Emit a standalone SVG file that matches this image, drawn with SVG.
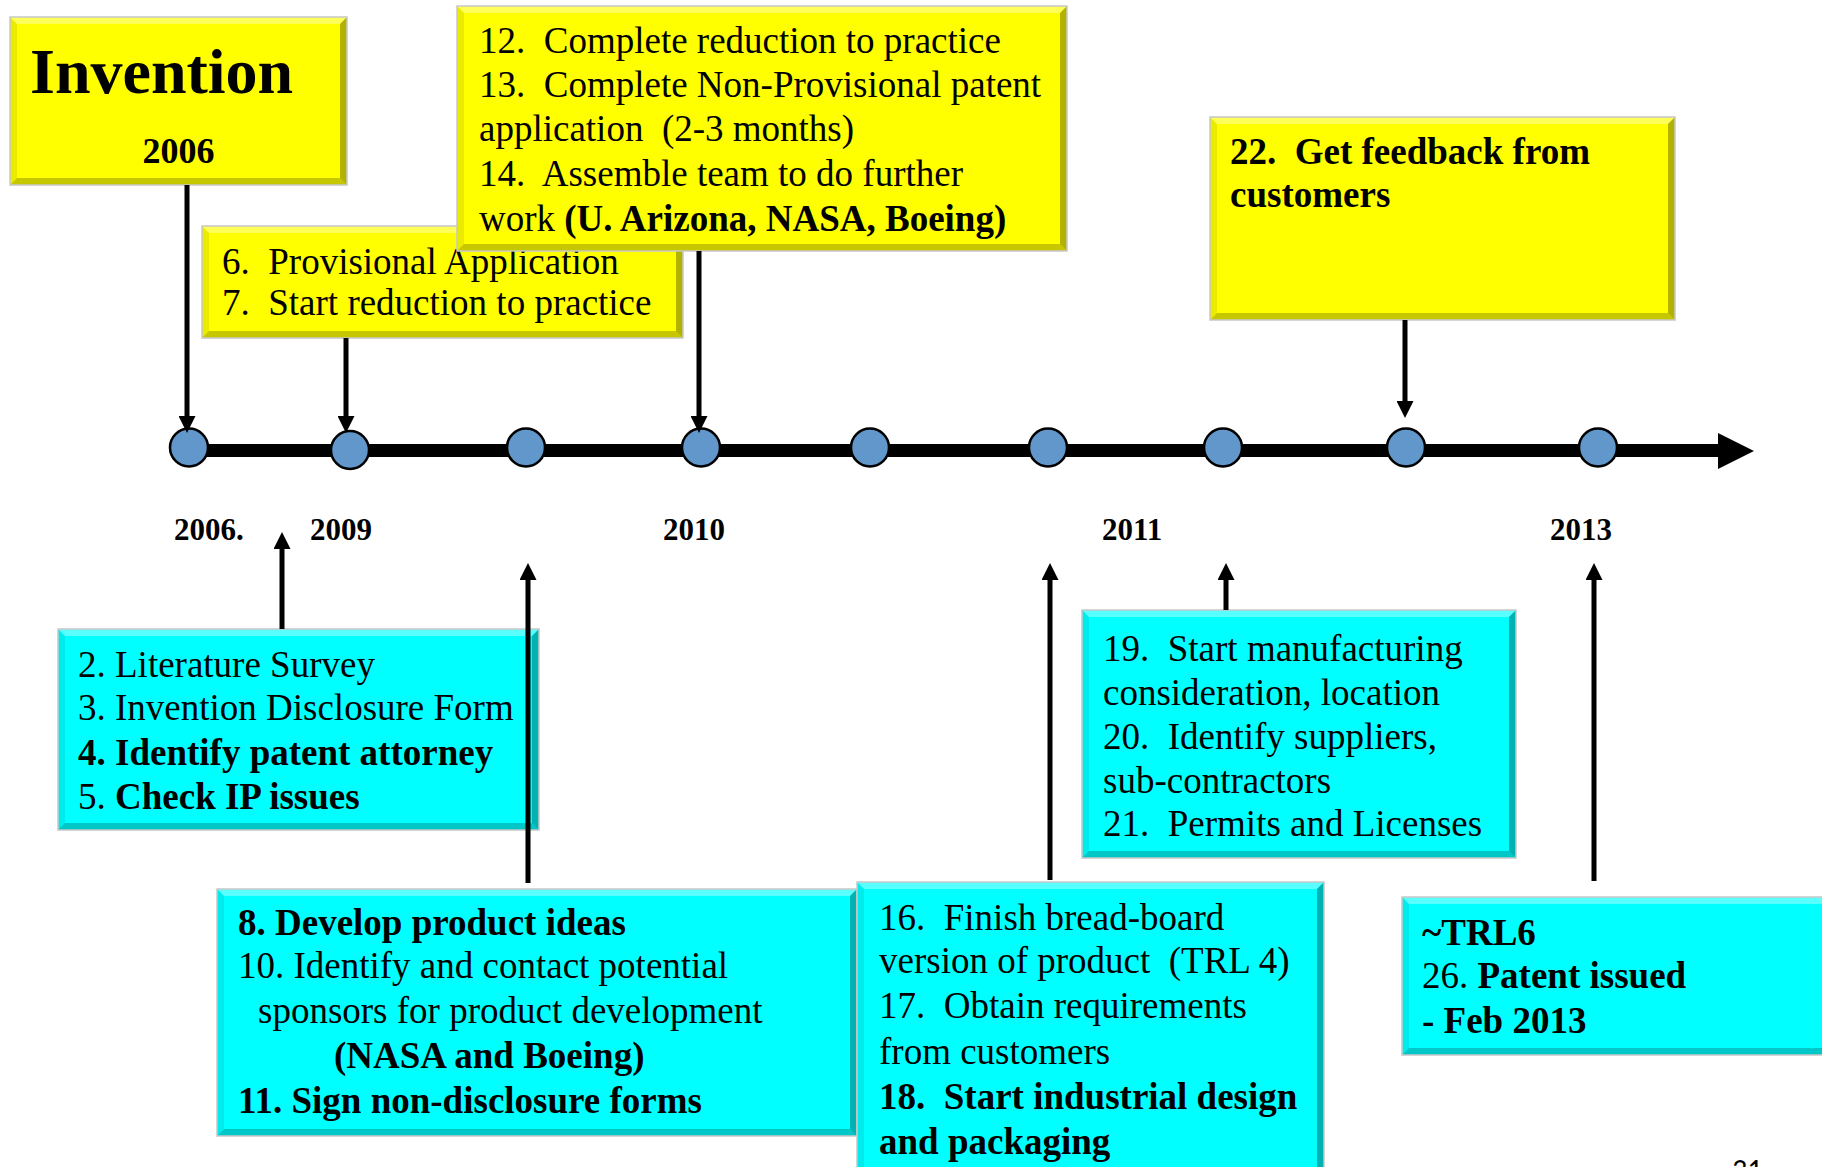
<svg xmlns="http://www.w3.org/2000/svg" width="1822" height="1167" viewBox="0 0 1822 1167">
<defs>
<style>
.bg{fill:#ffffff}
.y{fill:#FFFF00}
.c{fill:#00FFFF}
.edge{fill:none;stroke:#c8c8c8;stroke-width:1.5}
.bt{fill:#ffffff;opacity:0.35}
.bl{fill:#000000;opacity:0.08}
.br{fill:#000000;opacity:0.3}
.bb{fill:#000000;opacity:0.22}
text{font-family:"Liberation Serif","Times New Roman",serif;fill:#000;white-space:pre}
.t{font-size:37px}
.b{font-weight:bold}
.yr{font-size:31px;font-weight:bold}
.conn{stroke:#000;stroke-width:5;fill:none}
.dot{fill:#6197CB;stroke:#000;stroke-width:2.5}
</style>
<marker id="ah" markerUnits="userSpaceOnUse" markerWidth="17" markerHeight="17" viewBox="0 0 17 17" refX="3" refY="8.5" orient="auto">
<path d="M0,0 L17,8.5 L0,17 z" fill="#000"/>
</marker>
</defs>
<rect class="bg" x="0" y="0" width="1822" height="1167"/>

<g id="timeline">
<line x1="189" y1="450.5" x2="1720" y2="450.5" stroke="#000" stroke-width="13"/>
<polygon points="1718,433 1754,451 1718,469" fill="#000"/>
<circle id="t1" class="dot" cx="189" cy="447.5" r="19"/>
<circle id="t2" class="dot" cx="350" cy="450" r="19"/>
<circle id="t3" class="dot" cx="526" cy="447.5" r="19"/>
<circle id="t4" class="dot" cx="701" cy="447.5" r="19"/>
<circle id="t5" class="dot" cx="870" cy="447.5" r="19"/>
<circle id="t6" class="dot" cx="1048" cy="447.5" r="19"/>
<circle id="t7" class="dot" cx="1223" cy="447.5" r="19"/>
<circle id="t8" class="dot" cx="1406" cy="447.5" r="19"/>
<circle id="t9" class="dot" cx="1598" cy="447.5" r="19"/>
</g>

<g id="years">
<text class="yr" x="174" y="540">2006.</text>
<text class="yr" x="310" y="540">2009</text>
<text class="yr" x="663" y="540">2010</text>
<text class="yr" x="1102" y="540">2011</text>
<text class="yr" x="1550" y="540">2013</text>
</g>

<g id="invention">
<rect class="y" x="10" y="17" width="337" height="168"/>
<polygon class="bt" points="10,17 347,17 340,24 17,24"/>
<polygon class="bl" points="10,17 17,24 17,178 10,185"/>
<polygon class="br" points="347,17 347,185 340,178 340,24"/>
<polygon class="bb" points="10,185 17,178 340,178 347,185"/>
<rect class="edge" x="10" y="17" width="337" height="168"/>
<text class="b" x="30" y="93" font-size="64">Invention</text>
<text class="b" x="178.5" y="163" font-size="36" text-anchor="middle">2006</text>
</g>

<g id="box6">
<rect class="y" x="202" y="226" width="481" height="112"/>
<polygon class="bt" points="202,226 683,226 676,233 209,233"/>
<polygon class="bl" points="202,226 209,233 209,331 202,338"/>
<polygon class="br" points="683,226 683,338 676,331 676,233"/>
<polygon class="bb" points="202,338 209,331 676,331 683,338"/>
<rect class="edge" x="202" y="226" width="481" height="112"/>
<text class="t" x="222" y="274">6.  Provisional Application</text>
<text class="t" x="222" y="315">7.  Start reduction to practice</text>
</g>

<g id="box12">
<rect class="y" x="457" y="6" width="610" height="245"/>
<polygon class="bt" points="457,6 1067,6 1060,13 464,13"/>
<polygon class="bl" points="457,6 464,13 464,244 457,251"/>
<polygon class="br" points="1067,6 1067,251 1060,244 1060,13"/>
<polygon class="bb" points="457,251 464,244 1060,244 1067,251"/>
<rect class="edge" x="457" y="6" width="610" height="245"/>
<text class="t" x="479" y="53">12.  Complete reduction to practice</text>
<text class="t" x="479" y="97">13.  Complete Non-Provisional patent</text>
<text class="t" x="479" y="141">application  (2-3 months)</text>
<text class="t" x="479" y="186">14.  Assemble team to do further</text>
<text class="t" x="479" y="231">work <tspan class="b">(U. Arizona, NASA, Boeing)</tspan></text>
</g>

<g id="box22">
<rect class="y" x="1210" y="117" width="465" height="203"/>
<polygon class="bt" points="1210,117 1675,117 1668,124 1217,124"/>
<polygon class="bl" points="1210,117 1217,124 1217,313 1210,320"/>
<polygon class="br" points="1675,117 1675,320 1668,313 1668,124"/>
<polygon class="bb" points="1210,320 1217,313 1668,313 1675,320"/>
<rect class="edge" x="1210" y="117" width="465" height="203"/>
<text class="t b" x="1230" y="164">22.  Get feedback from</text>
<text class="t b" x="1230" y="207">customers</text>
</g>

<g id="box2">
<rect class="c" x="58" y="629" width="481" height="201"/>
<polygon class="bt" points="58,629 539,629 532,636 65,636"/>
<polygon class="bl" points="58,629 65,636 65,823 58,830"/>
<polygon class="br" points="539,629 539,830 532,823 532,636"/>
<polygon class="bb" points="58,830 65,823 532,823 539,830"/>
<rect class="edge" x="58" y="629" width="481" height="201"/>
<text class="t" x="78" y="677">2. Literature Survey</text>
<text class="t" x="78" y="720">3. Invention Disclosure Form</text>
<text class="t b" x="78" y="765">4. Identify patent attorney</text>
<text class="t" x="78" y="809">5. <tspan class="b">Check IP issues</tspan></text>
</g>

<g id="box19">
<rect class="c" x="1082" y="610" width="434" height="248"/>
<polygon class="bt" points="1082,610 1516,610 1509,617 1089,617"/>
<polygon class="bl" points="1082,610 1089,617 1089,851 1082,858"/>
<polygon class="br" points="1516,610 1516,858 1509,851 1509,617"/>
<polygon class="bb" points="1082,858 1089,851 1509,851 1516,858"/>
<rect class="edge" x="1082" y="610" width="434" height="248"/>
<text class="t" x="1103" y="661">19.  Start manufacturing</text>
<text class="t" x="1103" y="705">consideration, location</text>
<text class="t" x="1103" y="749">20.  Identify suppliers,</text>
<text class="t" x="1103" y="793">sub-contractors</text>
<text class="t" x="1103" y="836">21.  Permits and Licenses</text>
</g>

<g id="box8">
<rect class="c" x="217" y="889" width="640" height="247"/>
<polygon class="bt" points="217,889 857,889 850,896 224,896"/>
<polygon class="bl" points="217,889 224,896 224,1129 217,1136"/>
<polygon class="br" points="857,889 857,1136 850,1129 850,896"/>
<polygon class="bb" points="217,1136 224,1129 850,1129 857,1136"/>
<rect class="edge" x="217" y="889" width="640" height="247"/>
<text class="t b" x="238" y="935">8. Develop product ideas</text>
<text class="t" x="238" y="978">10. Identify and contact potential</text>
<text class="t" x="258" y="1023">sponsors for product development</text>
<text class="t b" x="334" y="1068">(NASA and Boeing)</text>
<text class="t b" x="238" y="1113">11. Sign non-disclosure forms</text>
</g>

<g id="box16">
<rect class="c" x="857" y="882" width="467" height="300"/>
<polygon class="bt" points="857,882 1324,882 1317,889 864,889"/>
<polygon class="bl" points="857,882 864,889 864,1175 857,1182"/>
<polygon class="br" points="1324,882 1324,1182 1317,1175 1317,889"/>
<rect class="edge" x="857" y="882" width="467" height="300"/>
<text class="t" x="879" y="930">16.  Finish bread-board</text>
<text class="t" x="879" y="973">version of product  (TRL 4)</text>
<text class="t" x="879" y="1018">17.  Obtain requirements</text>
<text class="t" x="879" y="1064">from customers</text>
<text class="t b" x="879" y="1109">18.  Start industrial design</text>
<text class="t b" x="879" y="1154">and packaging</text>
</g>

<g id="boxTRL">
<rect class="c" x="1402" y="897" width="440" height="158"/>
<polygon class="bt" points="1402,897 1842,897 1835,904 1409,904"/>
<polygon class="bl" points="1402,897 1409,904 1409,1048 1402,1055"/>
<polygon class="bb" points="1402,1055 1409,1048 1835,1048 1842,1055"/>
<rect class="edge" x="1402" y="897" width="440" height="158"/>
<text class="t b" x="1422" y="945">~TRL6</text>
<text class="t" x="1422" y="988">26. <tspan class="b">Patent issued</tspan></text>
<text class="t b" x="1422" y="1033">- Feb 2013</text>
</g>

<g id="connectors">
<line class="conn" x1="187" y1="185" x2="187" y2="419" marker-end="url(#ah)"/>
<line class="conn" x1="346" y1="338" x2="346" y2="419" marker-end="url(#ah)"/>
<line class="conn" x1="699" y1="251" x2="699" y2="419" marker-end="url(#ah)"/>
<line class="conn" x1="1405" y1="320" x2="1405" y2="404" marker-end="url(#ah)"/>
<line class="conn" x1="282" y1="629" x2="282" y2="546" marker-end="url(#ah)"/>
<line class="conn" x1="528" y1="883" x2="528" y2="577" marker-end="url(#ah)"/>
<line class="conn" x1="1050" y1="880" x2="1050" y2="577" marker-end="url(#ah)"/>
<line class="conn" x1="1226" y1="610" x2="1226" y2="577" marker-end="url(#ah)"/>
<line class="conn" x1="1594" y1="881" x2="1594" y2="577" marker-end="url(#ah)"/>
</g>

<text x="1732" y="1180" font-family="Carlito, 'Liberation Sans', sans-serif" font-size="30" style="font-family:Carlito,'Liberation Sans',sans-serif">31</text>
</svg>
